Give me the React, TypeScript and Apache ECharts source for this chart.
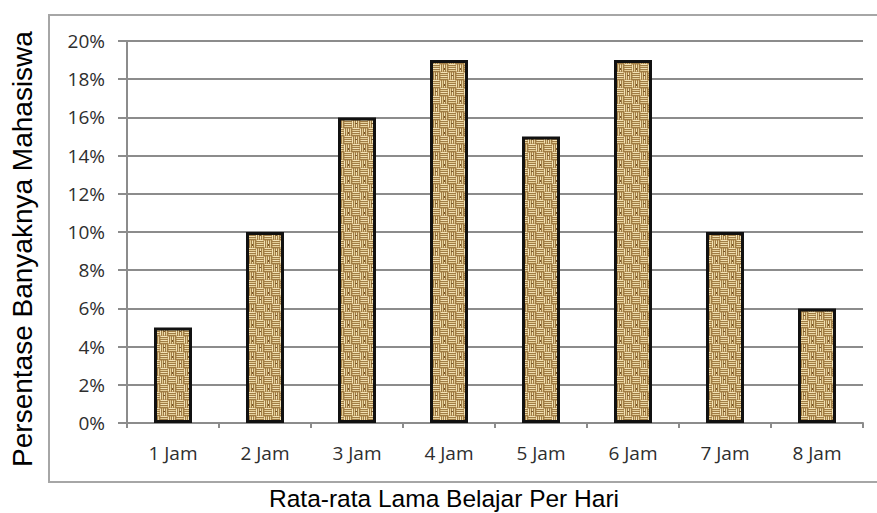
import React, { useEffect, useRef } from "react";
import * as echarts from "echarts";

const categories = ["1 Jam", "2 Jam", "3 Jam", "4 Jam", "5 Jam", "6 Jam", "7 Jam", "8 Jam"];
const percentValues = [5, 10, 16, 19, 15, 19, 10, 6];
const yTitle = "Persentase Banyaknya Mahasiswa";
const xTitle = "Rata-rata Lama Belajar Per Hari";

function makeWeave(): string {
  const c = document.createElement("canvas");
  const s = 16;
  c.width = s;
  c.height = s;
  const ctx = c.getContext("2d");
  if (!ctx) return "";
  ctx.fillStyle = "#cfb27a";
  ctx.fillRect(0, 0, s, s);
  const cell = 8;
  for (let i = 0; i < 2; i++) {
    for (let j = 0; j < 2; j++) {
      const x0 = i * cell;
      const y0 = j * cell;
      const horiz = (i + j) % 2 === 0;
      for (let k = 0; k < 4; k++) {
        ctx.fillStyle = k % 2 === 0 ? "#f2e2b6" : "#e4cf98";
        if (horiz) ctx.fillRect(x0 + 1, y0 + k * 2, cell - 2, 1);
        else ctx.fillRect(x0 + k * 2, y0 + 1, 1, cell - 2);
        ctx.fillStyle = "#a07c44";
        if (horiz) ctx.fillRect(x0, y0 + k * 2 + 1, cell, 1);
        else ctx.fillRect(x0 + k * 2 + 1, y0, 1, cell);
      }
    }
  }
  ctx.fillStyle = "#7d5a2a";
  ctx.fillRect(3, 11, 2, 1);
  ctx.fillRect(12, 4, 1, 2);
  return c.toDataURL();
}

export default function App() {
  const ref = useRef<HTMLDivElement>(null);
  useEffect(() => {
    document.body.style.margin = "0";
    if (!ref.current) return;
    const chart = echarts.init(ref.current, null, { renderer: "svg" });
    const weave = makeWeave();
    const labelFont = "'Open Sans', 'Noto Sans', sans-serif";
    chart.setOption({
      animation: false,
      backgroundColor: "#ffffff",
      grid: { left: 127, right: 14, top: 41, bottom: 90 },
      xAxis: {
        type: "category",
        data: categories,
        boundaryGap: true,
        axisLine: { show: true, lineStyle: { color: "#8c8c8c", width: 2 } },
        axisTick: { show: true, alignWithLabel: false, length: 5, lineStyle: { color: "#8c8c8c", width: 2 } },
        axisLabel: { color: "#2e2e2e", fontSize: 19, fontFamily: labelFont, margin: 20 },
        splitLine: { show: false },
      },
      yAxis: {
        type: "value",
        min: 0,
        max: 20,
        interval: 2,
        axisLine: { show: true, lineStyle: { color: "#8c8c8c", width: 2 } },
        axisTick: { show: true, length: 9, lineStyle: { color: "#8c8c8c", width: 2 } },
        axisLabel: { color: "#2e2e2e", fontSize: 19, fontFamily: labelFont, margin: 22, formatter: "{value}%" },
        splitLine: { show: true, lineStyle: { color: "#8c8c8c", width: 2 } },
      },
      series: [
        {
          type: "bar",
          data: percentValues,
          barWidth: 38,
          itemStyle: {
            color: weave ? { image: weave, repeat: "repeat" } : "#cfb27a",
            borderColor: "#111111",
            borderWidth: 3,
          },
        },
      ],
      graphic: [
        {
          type: "rect",
          shape: { x: 49, y: 15, width: 840, height: 467 },
          style: { fill: "none", stroke: "#a6a6a6", lineWidth: 2 },
          silent: true,
          z: -1,
        },
        {
          type: "text",
          x: 22,
          y: 249,
          rotation: Math.PI / 2,
          style: {
            text: yTitle,
            fontSize: 28,
            fontFamily: "'Liberation Sans', Arial, sans-serif",
            fill: "#000000",
            align: "center",
            verticalAlign: "middle",
          },
        },
        {
          type: "text",
          x: 444,
          y: 498,
          style: {
            text: xTitle,
            fontSize: 24.5,
            fontFamily: "'Liberation Sans', Arial, sans-serif",
            fill: "#000000",
            align: "center",
            verticalAlign: "middle",
          },
        },
      ],
    });
    return () => chart.dispose();
  }, []);
  return <div ref={ref} style={{ width: 877, height: 513 }} />;
}
